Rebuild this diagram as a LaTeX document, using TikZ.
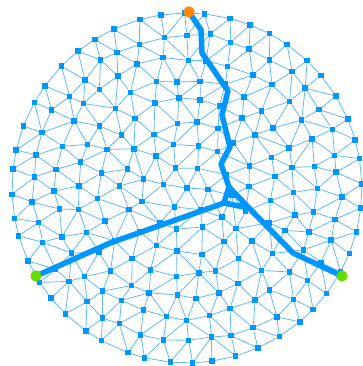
\documentclass[tikz,border=0pt]{standalone}
\usepackage{xcolor}
\usepackage{tikz}
\usetikzlibrary{positioning}
\definecolor{meshblue}{RGB}{0,150,255}
\definecolor{edgeblue}{RGB}{95,185,250}
\definecolor{termorange}{RGB}{255,136,0}
\definecolor{termgreen}{RGB}{102,221,0}
\pgfdeclarelayer{bg}
\pgfsetlayers{bg,main}

\begin{document}
\begin{tikzpicture}[
        x=1pt, y=-1pt,
        vert/.style={
            rectangle,
            fill=meshblue,
            minimum size=5.5pt,
            inner sep=0pt
        },
        link/.style={edgeblue, line width=0.8pt},
        tree/.style={meshblue, line width=5.5pt, line cap=round, line join=round},
        term/.style={circle, minimum size=11pt, inner sep=0pt}
    ]
        \useasboundingbox (0,0) rectangle (362,366);
        \pgfmathsetseed{23}
        \foreach \k in {1,...,8}{
            \pgfmathsetmacro{\off}{rnd*60/\k}
            \expandafter\xdef\csname off\k\endcsname{\off}
        }
        \node[vert] (p-0-0) at (187,188) {};
        \foreach \k in {1,...,8}{
            \pgfmathtruncatemacro{\last}{6*\k-1}
            \foreach \i in {0,...,\last}{
                \pgfmathsetmacro{\ang}{\csname off\k\endcsname+\i*60/\k}
                \ifnum\k<8
                    \pgfmathsetmacro{\rad}{\k*21.875}
                    \pgfmathsetmacro{\jx}{187+3.5*rand}
                    \pgfmathsetmacro{\jy}{188+3.5*rand}
                \else
                    \pgfmathsetmacro{\ang}{\ang+1.2*rand}
                    \def\rad{175}
                    \def\jx{187}
                    \def\jy{188}
                \fi
                \node[vert] (p-\k-\i) at ([shift={(\ang:\rad)}]\jx,\jy) {};
            }
        }
        \begin{pgfonlayer}{bg}
            \foreach \i in {0,...,5}
                \draw[link] (p-0-0) -- (p-1-\i);
            \foreach \k in {1,...,8}{
                \pgfmathtruncatemacro{\n}{6*\k}
                \pgfmathtruncatemacro{\last}{\n-1}
                \foreach \i in {0,...,\last}{
                    \pgfmathtruncatemacro{\nx}{mod(\i+1,\n)}
                    \draw[link] (p-\k-\i) -- (p-\k-\nx);
                }
            }
            \foreach \k in {1,...,7}{
                \pgfmathtruncatemacro{\kk}{\k+1}
                \pgfmathtruncatemacro{\n}{6*\k}
                \pgfmathtruncatemacro{\m}{6*\kk}
                \pgfmathtruncatemacro{\lastin}{\n-1}
                \pgfmathtruncatemacro{\lastout}{\m-1}
                \foreach \j in {0,...,\lastout}{
                    \pgfmathtruncatemacro{\pr}{mod(floor((\csname off\kk\endcsname+\j*60/\kk-\csname off\k\endcsname)/(60/\k))+\n,\n)}
                    \draw[link] (p-\kk-\j) -- (p-\k-\pr);
                }
                \foreach \i in {0,...,\lastin}{
                    \pgfmathtruncatemacro{\pr}{mod(floor((\csname off\k\endcsname+\i*60/\k-\csname off\kk\endcsname)/(60/\kk))+\m,\m)}
                    \draw[link] (p-\k-\i) -- (p-\kk-\pr);
                }
            }
        \end{pgfonlayer}
        \node[term, fill=termorange] (src) at (189,12) {};
        \node[term, fill=termgreen] (left) at (36,276) {};
        \node[term, fill=termgreen] (right) at (342,276) {};
        \coordinate (t1) at (201,30);
        \coordinate (t2) at (202,53);
        \coordinate (t3) at (228,91);
        \coordinate (t4) at (222,115);
        \coordinate (t5) at (230,147);
        \coordinate (t6) at (221,164);
        \coordinate (hub) at (229,187);
        \coordinate (hubl) at (224,203);
        \coordinate (hubr) at (249,208);
        \coordinate (l1) at (110,243);
        \coordinate (r1) at (293,253);
        \draw[tree] (src.center) -- (t1) -- (t2) -- (t3) -- (t4) -- (t5) -- (t6) -- (hub);
        \draw[tree] (hub) -- (hubl) -- (hubr) -- cycle;
        \draw[tree] (hubl) -- (l1) -- (left.center);
        \draw[tree] (hubr) -- (r1) -- (right.center);
        \node[term, fill=termorange] at (src) {};
        \node[term, fill=termgreen] at (left) {};
        \node[term, fill=termgreen] at (right) {};
    \end{tikzpicture}
\end{document}
